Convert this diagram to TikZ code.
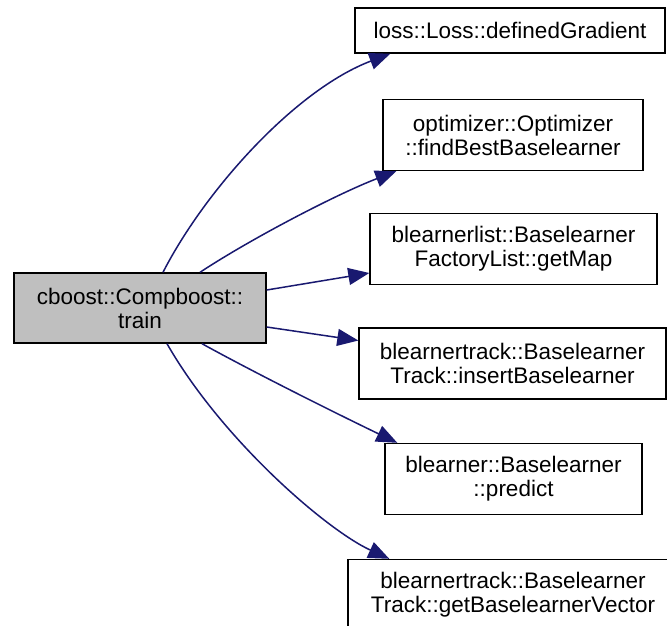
\documentclass[tikz,border=0pt]{standalone}
\usepackage{fontspec}
\setmainfont{Liberation Sans}
\usepackage{tikz}
\usetikzlibrary{arrows.meta}

\definecolor{callblue}{RGB}{25,25,112}
\definecolor{rootgray}{RGB}{191,191,191}

\begin{document}
\begin{tikzpicture}[
    x=1pt, y=-1pt,
    font=\fontsize{22.5}{24}\selectfont,
    fn/.style={rectangle, draw=black, line width=1.4pt, fill=white, align=center,
      inner sep=0pt, minimum height=71pt},
    rootfn/.style={fn, fill=rootgray, minimum height=70pt},
    call/.style={-{Triangle[length=21pt, width=17pt, fill=callblue]}, draw=callblue, line width=1.5pt},
  ]
  \clip (0,0) rectangle (667,625);
  \fill[white] (0,0) rectangle (667,625);

  \node[rootfn, minimum width=252pt] (train)   at (140,308)   {cboost::Compboost::\\train};

  \node[fn, minimum width=310pt, minimum height=45pt] (loss) at (510,30.5) {loss::Loss::definedGradient};
  \node[fn, minimum width=260pt] (optim)   at (513,135)   {optimizer::Optimizer\\::findBestBaselearner};
  \node[fn, minimum width=287pt] (getmap)  at (513.5,249) {blearnerlist::Baselearner\\FactoryList::getMap};
  \node[fn, minimum width=307pt] (insert)  at (512.5,363.5) {blearnertrack::Baselearner\\Track::insertBaselearner};
  \node[fn, minimum width=257pt] (predict) at (513.5,479) {blearner::Baselearner\\::predict};
  \node[fn, minimum width=330pt] (getvec)  at (513,595)   {blearnertrack::Baselearner\\Track::getBaselearnerVector};

  \draw[call] ([xshift=23]train.north) .. controls +(42,-82) and +(-95,36) .. ([xshift=36]loss.south west);
  \draw[call] ([xshift=60]train.north) .. controls +(50,-33) and +(-60,23) .. ([xshift=14]optim.south west);
  \draw[call] ([yshift=18]train.east) -- ([yshift=-24]getmap.west);
  \draw[call] ([yshift=-19]train.east) -- ([yshift=23]insert.west);
  \draw[call] ([xshift=62]train.south) .. controls +(60,33) and +(-50,-24) .. ([xshift=13]predict.north west);
  \draw[call] ([xshift=27]train.south) .. controls +(55,96) and +(-63,-29) .. ([xshift=42]getvec.north west);
\end{tikzpicture}
\end{document}
